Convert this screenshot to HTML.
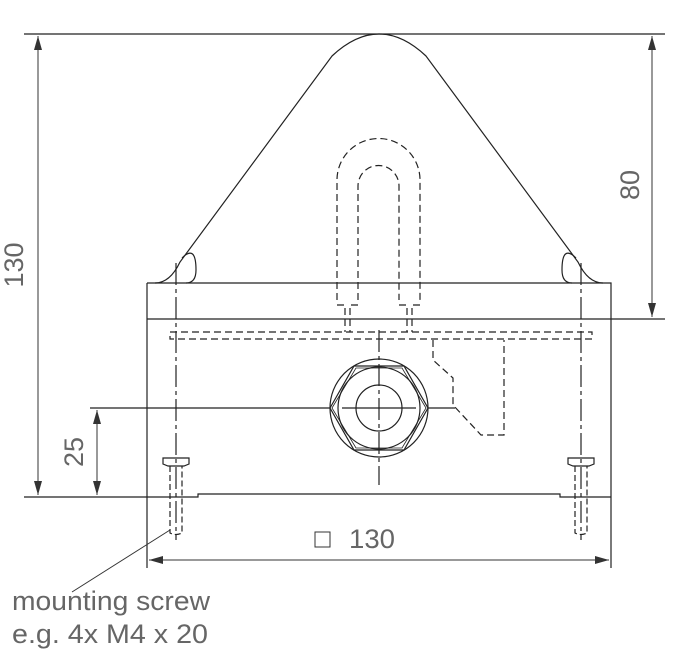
<!DOCTYPE html>
<html><head><style>body{margin:0;background:#fff}svg{display:block}</style></head><body>
<svg width="683" height="652" viewBox="0 0 683 652" xmlns="http://www.w3.org/2000/svg" fill="none" stroke="#222" stroke-width="1.2">
<defs><marker id="a" markerWidth="14" markerHeight="8" refX="14" refY="4" orient="auto-start-reverse" markerUnits="userSpaceOnUse"><path d="M0,0 L14,4 L0,8 Z" fill="#333" stroke="none"/></marker></defs>
<path d="M155,283 Q170,283 180,262 L332,56 Q379,12 426,56 L578,262 Q588,283 603,283"/>
<path d="M182,258 Q196,244 196,270 Q196,283 186,283"/>
<path d="M576,258 Q562,244 562,270 Q562,283 572,283"/>
<path d="M147,283 H611 V568 M147,283 V568 M147,319 H665 M24,34 H665"/>
<path d="M24,497 H198 V494 H560 V497 H611"/>
<g stroke-dasharray="7,4">
<path d="M337,300 V180 A41.5,41.5 0 0 1 420,180 V300"/>
<path d="M358,300 V186 A20.5,20.5 0 0 1 399,186 V300"/>
<path d="M337,305 H345 V332 M358,305 H350 V332 M399,305 H407 V332 M420,305 H412 V332"/>
<path d="M170,332 H592 V339 H170 Z"/>
<path d="M433,340 V360 L453,378 V405 L481,435 H504 V340"/>
</g>
<g stroke-dasharray="22,4,4,4">
<path d="M176,263 V540"/><path d="M581,263 V540"/>
<path d="M379,330 V485"/>
</g>
<circle cx="379" cy="408" r="49"/>
<circle cx="379" cy="408" r="41"/>
<circle cx="379" cy="408" r="23"/>
<path d="M330,408 L354,366 H404 L428,408 L404,450 H354 Z"/>
<path d="M332,408 L356,368 H402 L426,408 L402,448 H356 Z" stroke-width="0.8"/>
<path d="M90,408 H330 M428,408 H455 M342,408 H416"/>
<g>
<path d="M163,458 H189 V464 L184,466 H168 L163,464 Z"/>
<path d="M568,458 H594 V464 L589,466 H573 L568,464 Z"/>
<path d="M170,466 V533 Q176,536 182,533 V466" stroke-dasharray="6,3"/>
<path d="M575,466 V533 Q581,536 587,533 V466" stroke-dasharray="6,3"/>
</g>
<g stroke="#333" stroke-width="1">
<path d="M38,36 V495" marker-start="url(#a)" marker-end="url(#a)"/>
<path d="M652,36 V317" marker-start="url(#a)" marker-end="url(#a)"/>
<path d="M97,410 V495" marker-start="url(#a)" marker-end="url(#a)"/>
<path d="M149,560 H609" marker-start="url(#a)" marker-end="url(#a)"/>
<path d="M170,530 L72,592"/>
<rect x="315" y="532" width="15" height="15"/>
</g>
<g fill="#666" stroke="none" font-family="Liberation Sans, sans-serif" font-size="27">
<text x="349" y="548" textLength="46" lengthAdjust="spacingAndGlyphs">130</text>
<text transform="translate(23,265) rotate(-90)" text-anchor="middle">130</text>
<text transform="translate(639,185) rotate(-90)" text-anchor="middle">80</text>
<text transform="translate(83,452) rotate(-90)" text-anchor="middle">25</text>
<text x="12" y="610" textLength="198" lengthAdjust="spacingAndGlyphs">mounting screw</text>
<text x="12" y="643" textLength="196" lengthAdjust="spacingAndGlyphs">e.g. 4x M4 x 20</text>
</g>
</svg>
</body></html>
